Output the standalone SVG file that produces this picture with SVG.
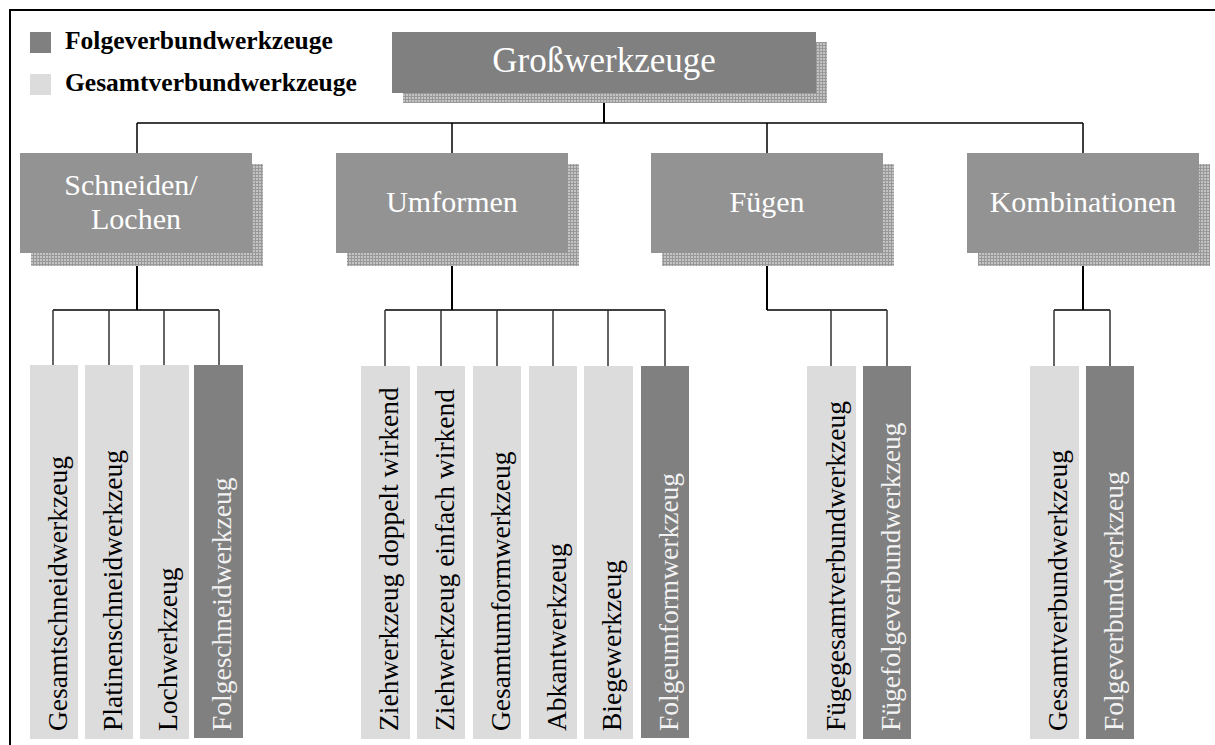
<svg xmlns="http://www.w3.org/2000/svg" width="1215" height="745" viewBox="0 0 1215 745">
<style>
text{font-family:"Liberation Serif","Times New Roman",serif;}
.leg{font-size:25.5px;font-weight:bold;fill:#000;}
.title{font-size:35px;fill:#fff;text-anchor:middle;}
.cat{font-size:30px;fill:#fff;text-anchor:middle;}
.leaf{font-size:27.5px;}
.lt{fill:#dcdcdc;}
.dk{fill:#808080;}
.lt-t{fill:#000;}
.dk-t{fill:#f2f2f2;}
.catbox{fill:#939393;}
.shadow{fill:url(#grid);}
.c{stroke:#000;fill:none;stroke-width:1.5;}
.ct{stroke:#000;fill:none;stroke-width:2;}
.cd{stroke:#333;fill:none;stroke-width:1.5;}
</style>
<defs>
<pattern id="grid" width="3" height="3" patternUnits="userSpaceOnUse">
<rect width="3" height="3" fill="#c4c4c4"/>
<path d="M0,0.5H3M0.5,0V3" stroke="#989898" stroke-width="1"/>
</pattern>
</defs>
<rect width="1215" height="745" fill="#fff"/>
<path d="M10,745V10H1215" stroke="#000" stroke-width="2" fill="none"/>

<g id="legend">
<rect x="30" y="32" width="21" height="21" class="dk"/>
<text x="65" y="49" class="leg">Folgeverbundwerkzeuge</text>
<rect x="30" y="74" width="21" height="21" class="lt"/>
<text x="65" y="91" class="leg">Gesamtverbundwerkzeuge</text>
</g>

<g id="connectors">
<path class="ct" d="M604,93V123"/>
<path class="c" d="M137,123H1083M137,123V153M452,123V153M767,123V153M1083,123V153"/>
<path class="ct" d="M137,253V310M452,253V310M767,253V310M1083,253V310"/>
<path class="c" d="M53,310H219M385,310H665M767,310H887M1054,310H1110"/>
<path class="cd" d="M53,310V365M109,310V365M164,310V365M219,310V365"/>
<path class="cd" d="M385,310V366M441,310V366M497,310V366M553,310V366M608,310V366M665,310V366"/>
<path class="cd" d="M831,310V366M887,310V366"/>
<path class="cd" d="M1054,310V366M1110,310V366"/>
</g>

<g id="n-grosswerkzeuge">
<rect x="403" y="42" width="424" height="61" class="shadow"/>
<rect x="392" y="32" width="424" height="61" fill="#808080"/>
<text x="604" y="72" class="title">Großwerkzeuge</text>
</g>

<g id="n-schneiden">
<rect x="31" y="164" width="232" height="102" class="shadow"/>
<rect x="20" y="153" width="232" height="100" class="catbox"/>
<text x="131" y="195" class="cat">Schneiden/</text>
<text x="136" y="229" class="cat">Lochen</text>
</g>
<g id="n-umformen">
<rect x="347" y="164" width="232" height="102" class="shadow"/>
<rect x="336" y="153" width="232" height="100" class="catbox"/>
<text x="452" y="212" class="cat">Umformen</text>
</g>
<g id="n-fuegen">
<rect x="662" y="164" width="232" height="102" class="shadow"/>
<rect x="651" y="153" width="232" height="100" class="catbox"/>
<text x="767" y="212" class="cat">Fügen</text>
</g>
<g id="n-kombinationen">
<rect x="978" y="164" width="232" height="102" class="shadow"/>
<rect x="967" y="153" width="232" height="100" class="catbox"/>
<text x="1083" y="212" class="cat">Kombinationen</text>
</g>

<g id="l-gesamtschneid"><rect x="30" y="365" width="48" height="374" class="lt"/><text class="leaf lt-t" transform="translate(67,731) rotate(-90)">Gesamtschneidwerkzeug</text></g>
<g id="l-platinen"><rect x="85" y="365" width="48" height="374" class="lt"/><text class="leaf lt-t" transform="translate(122,731) rotate(-90)">Platinenschneidwerkzeug</text></g>
<g id="l-loch"><rect x="140" y="365" width="49" height="374" class="lt"/><text class="leaf lt-t" transform="translate(177,731) rotate(-90)">Lochwerkzeug</text></g>
<g id="l-folgeschneid"><rect x="194" y="365" width="49" height="373" class="dk"/><text class="leaf dk-t" transform="translate(231,731) rotate(-90)">Folgeschneidwerkzeug</text></g>

<g id="l-zieh-doppelt"><rect x="361" y="366" width="49" height="373" class="lt"/><text class="leaf lt-t" transform="translate(398,731) rotate(-90)">Ziehwerkzeug doppelt wirkend</text></g>
<g id="l-zieh-einfach"><rect x="417" y="366" width="48" height="373" class="lt"/><text class="leaf lt-t" transform="translate(454,731) rotate(-90)">Ziehwerkzeug einfach wirkend</text></g>
<g id="l-gesamtumform"><rect x="473" y="366" width="48" height="373" class="lt"/><text class="leaf lt-t" transform="translate(510,731) rotate(-90)">Gesamtumformwerkzeug</text></g>
<g id="l-abkant"><rect x="529" y="366" width="48" height="373" class="lt"/><text class="leaf lt-t" transform="translate(566,731) rotate(-90)">Abkantwerkzeug</text></g>
<g id="l-biege"><rect x="584" y="366" width="49" height="373" class="lt"/><text class="leaf lt-t" transform="translate(621,731) rotate(-90)">Biegewerkzeug</text></g>
<g id="l-folgeumform"><rect x="641" y="366" width="48" height="372" class="dk"/><text class="leaf dk-t" transform="translate(678,731) rotate(-90)">Folgeumformwerkzeug</text></g>

<g id="l-fuegegesamt"><rect x="807" y="366" width="49" height="373" class="lt"/><text class="leaf lt-t" transform="translate(845,731) rotate(-90)">Fügegesamtverbundwerkzeug</text></g>
<g id="l-fuegefolge"><rect x="863" y="366" width="48" height="373" class="dk"/><text class="leaf dk-t" transform="translate(900,731) rotate(-90)">Fügefolgeverbundwerkzeug</text></g>

<g id="l-gesamtverbund"><rect x="1030" y="366" width="49" height="373" class="lt"/><text class="leaf lt-t" transform="translate(1067,731) rotate(-90)">Gesamtverbundwerkzeug</text></g>
<g id="l-folgeverbund"><rect x="1086" y="366" width="48" height="373" class="dk"/><text class="leaf dk-t" transform="translate(1123,731) rotate(-90)">Folgeverbundwerkzeug</text></g>
</svg>
